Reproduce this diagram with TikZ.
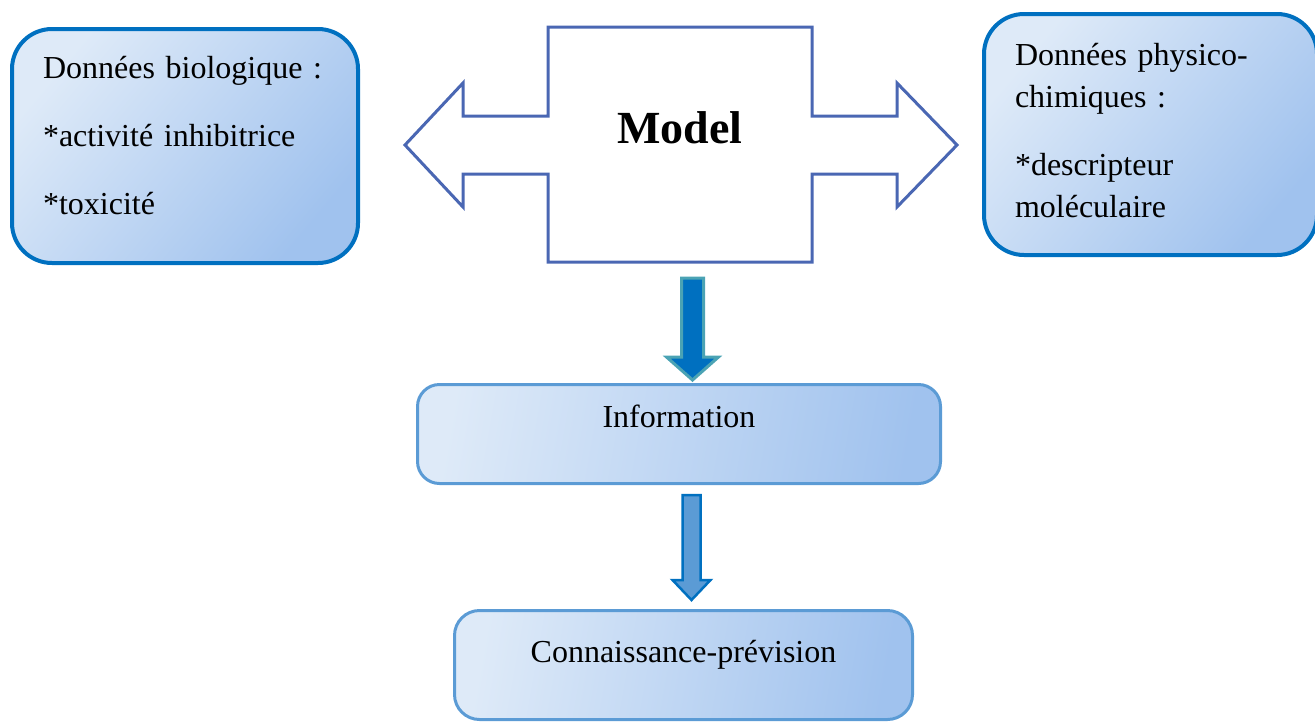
\documentclass[tikz,border=0pt]{standalone}
\usepackage{fontspec}
\setmainfont{Liberation Serif}
\usetikzlibrary{calc}

\definecolor{boxedge}{HTML}{0070C0}
\definecolor{softedge}{HTML}{5B9BD5}
\definecolor{shadelight}{HTML}{DEEAF8}
\definecolor{shadedark}{HTML}{A0C2EE}
\definecolor{modeledge}{HTML}{4A67B3}
\definecolor{arrowfill}{HTML}{0070C0}
\definecolor{arrowedge}{HTML}{4BA3B4}
\definecolor{arrowfilltwo}{HTML}{5B9BD5}

% downward block arrow: style, top point, tip point, shaft half width, head half width, head length
\newcommand\blockdown[6]{%
  \path[#1] let \p1=#2, \p2=#3 in
    (\x1-#4,\y1) -- (\x1+#4,\y1) -- (\x1+#4,\y2+#6) -- (\x1+#5,\y2+#6)
    -- (\x1,\y2) -- (\x1-#5,\y2+#6) -- (\x1-#4,\y2+#6) -- cycle;}

\tikzset{
  bodytext/.style={font=\fontsize{16}{21}\selectfont},
  databox/.style={bodytext, draw=boxedge, line width=2pt, rounded corners=20pt,
    left color=shadelight, right color=shadedark, shading angle=50,
    align=left, inner xsep=15.5pt, inner ysep=0pt, anchor=north west},
  stagebox/.style={bodytext, draw=softedge, line width=1.5pt,
    left color=shadelight, right color=shadedark, shading angle=80,
    align=center, inner sep=0pt, anchor=north west},
  modelshape/.style={draw=modeledge, line width=1.5pt, line join=miter, fill=white},
  firstarrow/.style={draw=arrowedge, fill=arrowfill, line width=1.5pt, line join=miter},
  secondarrow/.style={draw=boxedge, fill=arrowfilltwo, line width=1.25pt, line join=miter},
}

\begin{document}
\begin{tikzpicture}[x=0.5pt,y=-0.5pt]
\useasboundingbox (0,0) rectangle (1315,723);

% input data boxes
\node[databox, text width=142pt, text height=24.5pt, text depth=92.5pt] (bio) at (10,27)
  {Données biologique :\\[13pt]*activité inhibitrice\\[13pt]*toxicité};
\node[databox, text width=135.5pt, text height=25.5pt, text depth=95pt] (phys) at (982,12)
  {Données physico-\\chimiques :\\[13pt]*descripteur\\moléculaire};

% model with its two-way arrow
\draw[modelshape] (548,27) -- (812,27) -- (812,116) -- (897,116) -- (897,83)
  -- (957,145) -- (897,207) -- (897,174) -- (812,174) -- (812,262) -- (548,262)
  -- (548,174) -- (463,174) -- (463,207) -- (405,145) -- (463,83) -- (463,116)
  -- (548,116) -- cycle;
\node[font=\fontsize{23}{27}\selectfont\bfseries, anchor=base] (model) at (680,143) {Model};
\coordinate (modelfoot) at (692.5,262);

% results
\node[stagebox, rounded corners=11pt, minimum width=261.5pt, text height=21.5pt, text depth=28pt] (info) at (416,383)
  {Information};
\node[stagebox, rounded corners=12.5pt, minimum width=229pt, text height=26pt, text depth=28.5pt] (conn) at (453,609)
  {Connaissance-prévision};

% flow arrows
\blockdown{firstarrow}{($(modelfoot)+(0,16)$)}{($(modelfoot |- info.north)+(0,-3)$)}{5.5pt}{13pt}{11.5pt}
\blockdown{secondarrow}{($(info.south)+(12.5,10)$)}{($(conn.north)+(8,-9)$)}{4.5pt}{9.5pt}{10pt}
\end{tikzpicture}
\end{document}
